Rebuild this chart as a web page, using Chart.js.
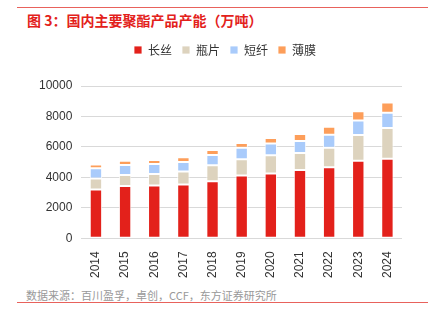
<!DOCTYPE html>
<html>
<head>
<meta charset="utf-8">
<script src="https://cdn.jsdelivr.net/npm/chart.js@4"></script>
<style>
  body { margin: 0; background: #fff; width: 431px; height: 322px; position: relative; overflow: hidden; }
  .rule { position: absolute; left: 17px; width: 411px; height: 1px; background: #e8625c; }
  #title { position: absolute; left: 27px; top: 10px; font: bold 14px "Noto Sans CJK SC", sans-serif; color: #e3211b; white-space: nowrap; }
  #source { position: absolute; left: 26px; top: 287px; font: 11px "Noto Sans CJK SC", sans-serif; color: #999; white-space: nowrap; }
  #wrap { position: absolute; left: 0; top: 34px; width: 431px; height: 249px; }
</style>
</head>
<body>
<div class="rule" style="top:7px"></div>
<div id="title">图 3：国内主要聚酯产品产能（万吨）</div>
<div id="wrap"><canvas id="capacity"></canvas></div>
<div id="source">数据来源：百川盈孚，卓创，CCF，东方证券研究所</div>
<div class="rule" style="top:302px"></div>
<script>
  // years and capacity by product (万吨)
  const years = ["2014", "2015", "2016", "2017", "2018", "2019", "2020", "2021", "2022", "2023", "2024"];
  const filament = [3200, 3430, 3460, 3530, 3750, 4120, 4250, 4490, 4670, 5100, 5230];
  const bottleChip = [720, 730, 770, 850, 1050, 1070, 1200, 1110, 1280, 1680, 2010];
  const staple = [680, 650, 650, 630, 670, 760, 780, 790, 850, 960, 1000];
  const film = [240, 280, 260, 310, 330, 310, 350, 460, 520, 610, 680];
  const yTicks = [0, 2000, 4000, 6000, 8000, 10000];

  Chart.defaults.font.family = '"Liberation Sans", Arial, sans-serif';
  Chart.defaults.color = "#333";

  function series(label, data, color) {
    return {
      label: label,
      data: data,
      backgroundColor: color,
      borderColor: "rgba(255,255,255,0.8)",
      borderWidth: 1,
      borderSkipped: false,
      barPercentage: 0.5,
      categoryPercentage: 0.85
    };
  }

  // extra space under the legend, and nudge it a bit to the right
  const legendTweak = {
    id: "legendTweak",
    beforeInit(chart) {
      const fit = chart.legend.fit;
      chart.legend.fit = function () {
        fit.bind(chart.legend)();
        this.height += 20;
      };
    },
    afterLayout(chart) {
      chart.legend.left += 9;
      chart.legend.right += 9;
    }
  };

  new Chart("capacity", {
    type: "bar",
    data: {
      labels: years,
      datasets: [
        series("长丝", filament, "#e3211b"),
        series("瓶片", bottleChip, "#ddd3be"),
        series("短纤", staple, "#a9cbfb"),
        series("薄膜", film, "#fd9e5a")
      ]
    },
    plugins: [legendTweak],
    options: {
      responsive: true,
      maintainAspectRatio: false,
      animation: false,
      layout: { padding: { left: 30, right: 29, top: 0, bottom: 0 } },
      plugins: {
        legend: {
          position: "top",
          labels: {
            boxWidth: 8,
            boxHeight: 8,
            padding: 10,
            font: { size: 12, family: '"Noto Sans CJK SC", sans-serif' }
          }
        },
        tooltip: { enabled: false }
      },
      scales: {
        x: {
          stacked: true,
          grid: { display: false },
          border: { display: false },
          ticks: { minRotation: 90, maxRotation: 90, font: { size: 12 }, padding: 5 }
        },
        y: {
          stacked: true,
          min: 0,
          max: 10000,
          afterBuildTicks: function (axis) {
            axis.ticks = yTicks.map(v => ({ value: v }));
          },
          grid: { color: "#d9d9d9", lineWidth: 1, drawTicks: false },
          border: { display: false },
          ticks: {
            font: { size: 12 },
            padding: 9,
            callback: v => String(v)
          }
        }
      }
    }
  });
</script>
</body>
</html>
